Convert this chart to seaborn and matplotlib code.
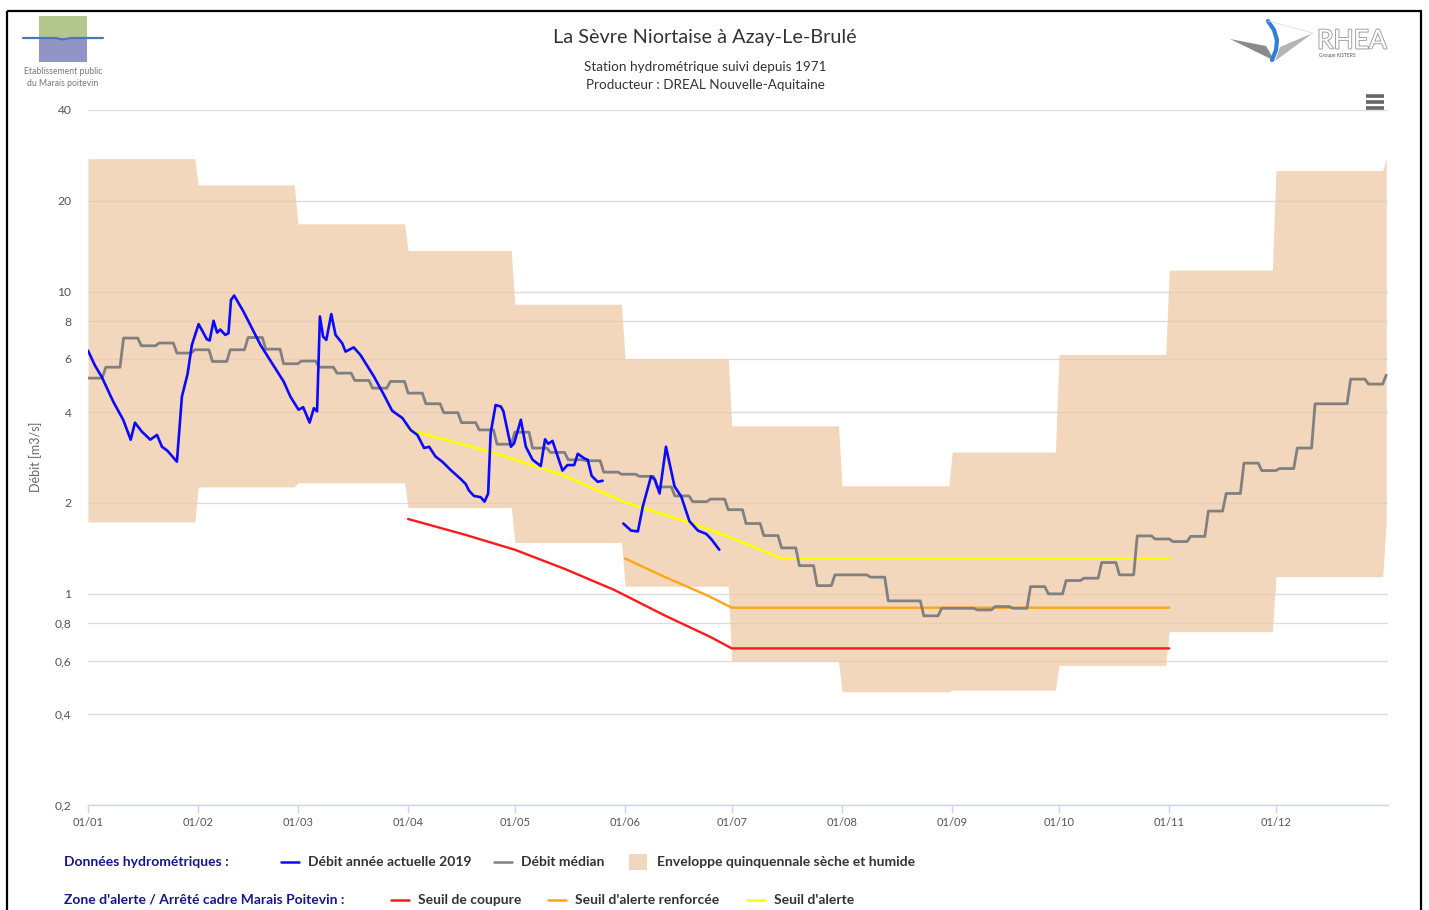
import numpy as np
import pandas as pd
import matplotlib
matplotlib.use("Agg")
import matplotlib.pyplot as plt
import seaborn as sns
from matplotlib.patches import Rectangle, Polygon
from matplotlib.lines import Line2D
from matplotlib.ticker import FixedLocator, NullLocator, FixedFormatter
import matplotlib.patheffects as pe

# ---------------------------------------------------------------
# Data (La Sèvre Niortaise, 2019), days from 01/01
# ---------------------------------------------------------------
MONTH_START = [0, 31, 59, 90, 120, 151, 181, 212, 243, 273, 304, 334]
MONTH_LABELS = ["01/01", "01/02", "01/03", "01/04", "01/05", "01/06",
                "01/07", "01/08", "01/09", "01/10", "01/11", "01/12"]

# Enveloppe quinquennale (humide = top, sèche = bottom), one value per month
ENV_HUMIDE = [27.6, 22.6, 16.8, 13.7, 9.1, 6.0, 3.6, 2.28, 2.95, 6.2, 11.8, 25.2]
ENV_SECHE = [1.73, 2.26, 2.33, 1.93, 1.48, 1.06, 0.60, 0.474, 0.48, 0.58, 0.75, 1.14]

# Débit médian, one value per 5-day block
MEDIAN_5J = [5.18, 5.63, 7.03, 6.63, 6.77, 6.27, 6.43, 5.88, 6.43, 7.06,
             6.46, 5.78, 5.90, 5.63, 5.38, 5.09, 4.80, 5.05, 4.62, 4.26,
             3.98, 3.69, 3.49, 3.13, 3.43, 3.04, 2.94, 2.78, 2.76, 2.53,
             2.49, 2.45, 2.26, 2.11, 2.02, 2.06, 1.90, 1.71, 1.56, 1.42,
             1.24, 1.065, 1.156, 1.156, 1.136, 0.948, 0.948, 0.846, 0.896, 0.896,
             0.885, 0.908, 0.896, 1.057, 1.00, 1.107, 1.127, 1.27, 1.156, 1.556,
             1.52, 1.49, 1.55, 1.88, 2.15, 2.71, 2.56, 2.60, 3.04, 4.26,
             4.26, 5.14, 4.95]
MEDIAN_END = 5.3

# Débit année actuelle 2019 (two pieces, gap end of May)
Q2019_A_DAY = [0, 2, 3.9, 7.1, 9.9, 12, 13.2, 15.1, 17.5, 19.4,
               20.8, 22.3, 25, 26.4, 28, 29.2, 31.1, 33.4, 34.2, 35.3,
               36.3, 37.2, 38.6, 39.5, 40.2, 41.1, 43.7, 48.5, 52.2, 55,
               56.9, 59.2, 60.5, 62.3, 63.5, 64.4, 65.2, 66.1, 67, 68.4,
               69.6, 71.5, 72.4, 74.7, 76.6, 80.4, 83.2, 85.5, 88.4, 90.7,
               92.6, 94.5, 95.9, 97.7, 99.6, 102, 104.8, 106.2, 107.1, 108.5,
               110.4, 111.5, 112.5, 113.2, 114.6, 116.1, 116.8, 118.9, 119.8, 121.7,
               123.1, 125, 127.3, 128.5, 129.4, 130.6, 133.4, 134.8, 136.7, 137.7,
               139.5, 140.5, 141.6, 143.3, 144.7]
Q2019_A_VAL = [6.39, 5.69, 5.22, 4.33, 3.77, 3.24, 3.69, 3.45, 3.24, 3.36,
               3.07, 2.98, 2.74, 4.50, 5.35, 6.67, 7.82, 6.97, 6.90, 8.02,
               7.33, 7.50, 7.20, 7.30, 9.41, 9.72, 8.61, 6.67, 5.69, 5.05,
               4.50, 4.07, 4.15, 3.69, 4.12, 4.02, 8.29, 7.11, 6.93, 8.44,
               7.20, 6.75, 6.34, 6.55, 6.18, 5.24, 4.56, 4.04, 3.82, 3.49,
               3.36, 3.04, 3.07, 2.85, 2.74, 2.57, 2.40, 2.31, 2.20, 2.11,
               2.09, 2.02, 2.15, 3.40, 4.22, 4.17, 4.02, 3.07, 3.15, 3.77,
               3.07, 2.78, 2.65, 3.25, 3.14, 3.21, 2.56, 2.67, 2.67, 2.91,
               2.81, 2.78, 2.46, 2.35, 2.37]
Q2019_B_DAY = [150.5, 152.7, 154.6, 156, 158.3, 159.4, 160.7, 162.5, 164.9,
               166.8, 169.1, 171.5, 173.8, 175.2, 177.5]
Q2019_B_VAL = [1.71, 1.62, 1.61, 1.95, 2.45, 2.39, 2.15, 3.07, 2.27,
               2.10, 1.74, 1.62, 1.58, 1.52, 1.40]

# Seuils (arrêté cadre Marais Poitevin)
COUPURE_DAY = [90, 106, 120, 134, 148, 162, 175, 181, 304]
COUPURE_VAL = [1.77, 1.57, 1.40, 1.21, 1.03, 0.85, 0.72, 0.66, 0.66]
RENFORCEE_DAY = [151, 162, 174, 181, 304]
RENFORCEE_VAL = [1.31, 1.14, 0.99, 0.90, 0.90]
ALERTE_DAY = [90, 113, 134, 151, 170, 183, 195, 304]
ALERTE_VAL = [3.49, 2.96, 2.46, 2.01, 1.71, 1.50, 1.31, 1.31]

YTICKS = [0.2, 0.4, 0.6, 0.8, 1, 2, 4, 6, 8, 10, 20, 40]
YTICK_LABELS = ["0,2", "0,4", "0,6", "0,8", "1", "2", "4", "6", "8", "10", "20", "40"]

# colours
C_BLUE = "#0a0aff"
C_GREY = "#808080"
C_ENV = "#efcaa6"
C_RED = "#ff1a1a"
C_ORANGE = "#ffa516"
C_YELLOW = "#ffff00"
C_NAVY = "#17178c"
C_TEXT = "#333333"

W, H = 1429, 910

sns.set_theme(style="white")
plt.rcParams["font.family"] = ["Lato", "DejaVu Sans"]
NARROW = ["Liberation Sans Narrow", "Lato", "DejaVu Sans"]

fig = plt.figure(figsize=(W / 100, H / 100), dpi=100)
fig.patch.set_facecolor("white")

ax = fig.add_axes([88 / W, 1 - 805 / H, 1300 / W, 695 / H], zorder=2)
ax.set_facecolor("none")
ax.set_yscale("log")

# envelope: monthly steps with one-day transitions
env_x, env_hi, env_lo = [], [], []
month_end = MONTH_START[1:] + [365]
for m in range(12):
    env_x += [MONTH_START[m], month_end[m] - 1]
    env_hi += [ENV_HUMIDE[m], ENV_HUMIDE[m]]
    env_lo += [ENV_SECHE[m], ENV_SECHE[m]]
env_x.append(365)
env_hi.append(ENV_HUMIDE[0])
env_lo.append(ENV_SECHE[0])
ax.fill_between(env_x, env_lo, env_hi, color=C_ENV, alpha=0.75, lw=0, zorder=1)

# median: 5-day blocks
med_x, med_y = [], []
for k, v in enumerate(MEDIAN_5J):
    med_x += [5 * k, 5 * k + 4]
    med_y += [v, v]
med_x.append(365)
med_y.append(MEDIAN_END)
med = pd.DataFrame({"jour": med_x, "debit": med_y})
sns.lineplot(data=med, x="jour", y="debit", ax=ax, color=C_GREY, lw=2.0,
             estimator=None, sort=False, zorder=4)

for days, vals, col, lw in [
    (COUPURE_DAY, COUPURE_VAL, C_RED, 1.7),
    (RENFORCEE_DAY, RENFORCEE_VAL, C_ORANGE, 1.7),
    (ALERTE_DAY, ALERTE_VAL, C_YELLOW, 1.9),
]:
    sns.lineplot(x=days, y=vals, ax=ax, color=col, lw=lw,
                 estimator=None, sort=False, zorder=3)

for days, vals in [(Q2019_A_DAY, Q2019_A_VAL), (Q2019_B_DAY, Q2019_B_VAL)]:
    sns.lineplot(x=days, y=vals, ax=ax, color=C_BLUE, lw=1.9,
                 estimator=None, sort=False, zorder=5)

ax.set_xlim(0, 365.5)
ax.set_ylim(0.2, 40)
ax.yaxis.set_major_locator(FixedLocator(YTICKS))
ax.yaxis.set_minor_locator(NullLocator())
ax.yaxis.set_major_formatter(FixedFormatter(YTICK_LABELS))
ax.xaxis.set_major_locator(FixedLocator(MONTH_START))
ax.xaxis.set_major_formatter(FixedFormatter(MONTH_LABELS))
ax.grid(axis="y", color="#dcdcdc", lw=1)
ax.grid(axis="x", visible=False)
ax.set_axisbelow(True)
for s in ["left", "right", "top"]:
    ax.spines[s].set_visible(False)
ax.spines["bottom"].set_color("#ccd6eb")
ax.spines["bottom"].set_linewidth(1)
ax.tick_params(axis="x", direction="out", length=6, width=1, color="#ccd6eb",
               labelsize=8, labelcolor="#555555", pad=3, bottom=True)
ax.tick_params(axis="y", length=0, labelsize=8.7, labelcolor="#555555", pad=12)
ax.set_xlabel("")
ax.set_ylabel("")

# ---------------------------------------------------------------
# overlay in pixel coordinates: frame, titles, logos, legend
# ---------------------------------------------------------------
ov = fig.add_axes([0, 0, 1, 1], zorder=1)
ov.set_xlim(0, W)
ov.set_ylim(H, 0)
ov.axis("off")
ov.set_facecolor("none")

ov.add_patch(Rectangle((7.5, 11), 1414, 910, fill=False, ec="black", lw=1.6))

ov.text(705, 37, "La Sèvre Niortaise à Azay-Le-Brulé", ha="center", va="center",
        fontsize=14.3, color="#333333")
ov.text(705, 67, "Station hydrométrique suivi depuis 1971", ha="center",
        va="center", fontsize=9.7, color="#333333")
ov.text(705, 85, "Producteur : DREAL Nouvelle-Aquitaine", ha="center",
        va="center", fontsize=9.7, color="#333333")
ov.text(36, 457, "Débit [m3/s]", rotation=90, ha="center", va="center",
        fontsize=9, color="#666666", family=NARROW)

# EPMP logo
ov.add_patch(Rectangle((39, 16), 48, 22, color="#b3c78d", lw=0))
ov.add_patch(Rectangle((39, 38), 48, 24, color="#9195c6", lw=0))
ov.plot([23, 55, 63, 71, 103], [38, 38, 39.5, 38, 38], color="#4b79b4", lw=1.6)
ov.text(63, 72, "Etablissement public", ha="center", va="center",
        fontsize=6.2, color="#777777")
ov.text(63, 83, "du Marais poitevin", ha="center", va="center",
        fontsize=6.2, color="#777777")

# RHEA logo
ov.add_patch(Polygon([(1230, 39), (1266, 46), (1275, 61)], closed=True,
                     color="#8a8a8a", lw=0))
ov.add_patch(Polygon([(1275, 61), (1280, 47), (1313, 33)], closed=True,
                     color="#b5b5b5", lw=0))
ov.plot([1268, 1274, 1277, 1276, 1272], [21, 30, 40, 50, 60],
        color="#2f7fd8", lw=3, solid_capstyle="round")
ov.plot([1268, 1313], [21, 33], color="#dddddd", lw=0.6)
ov.text(1317, 41, "RHEA", ha="left", va="center", fontsize=19,
        color="white", family=["Lato", "DejaVu Sans"],
        path_effects=[pe.withStroke(linewidth=1.3, foreground="#9a9a9a")])
ov.text(1319, 55, "Groupe KISTERS", ha="left", va="center", fontsize=3.5,
        color="#555555")

# menu icon
for yy in [96, 102, 108]:
    ov.plot([1366, 1384], [yy, yy], color="#666666", lw=2.6,
            solid_capstyle="butt")

# legend rows
LEG_FS = 10
ov.text(64, 862, "Données hydrométriques :", ha="left", va="center",
        fontsize=LEG_FS, color=C_NAVY, fontweight="bold", family=NARROW)
ov.text(64, 900, "Zone d'alerte / Arrêté cadre Marais Poitevin :", ha="left",
        va="center", fontsize=LEG_FS, color=C_NAVY, fontweight="bold",
        family=NARROW)

legend_lines = [
    (281, 862, C_BLUE, "Débit année actuelle 2019"),
    (494, 862, C_GREY, "Débit médian"),
    (391, 900, C_RED, "Seuil de coupure"),
    (548, 900, C_ORANGE, "Seuil d'alerte renforcée"),
    (747, 900, C_YELLOW, "Seuil d'alerte"),
]
for x0, y0, col, lab in legend_lines:
    ov.add_line(Line2D([x0, x0 + 18], [y0, y0], color=col, lw=1.8))
    ov.text(x0 + 27, y0, lab, ha="left", va="center", fontsize=LEG_FS,
            color=C_TEXT, fontweight="bold", family=NARROW)
ov.add_patch(Rectangle((629, 854), 18, 16, color=C_ENV, alpha=0.75, lw=0))
ov.text(657, 862, "Enveloppe quinquennale sèche et humide", ha="left",
        va="center", fontsize=LEG_FS, color=C_TEXT, fontweight="bold",
        family=NARROW)

fig.savefig("out.png", dpi=100, facecolor="white")
